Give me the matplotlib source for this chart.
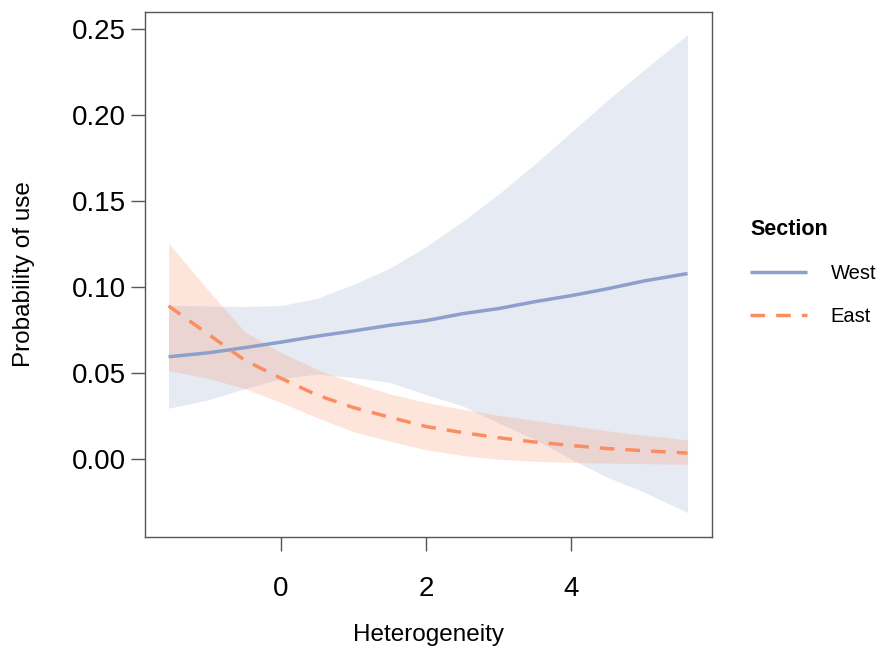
import matplotlib
matplotlib.use("Agg")
import matplotlib.pyplot as plt
import numpy as np

plt.rcParams['font.family'] = ['Liberation Sans', 'DejaVu Sans']

# Heterogeneity values
x = [-1.55, -1.0, -0.5, 0.0, 0.5, 1.0, 1.5, 2.0, 2.5, 3.0, 3.5, 4.0, 4.5, 5.0, 5.6]

# West section: predicted probability and CI
west_mean = [0.0595, 0.0618, 0.0648, 0.0680, 0.0715, 0.0745, 0.0778, 0.0805,
             0.0845, 0.0875, 0.0915, 0.0950, 0.0990, 0.1035, 0.1078]
west_upper = [0.0894, 0.0890, 0.0887, 0.0892, 0.0935, 0.1015, 0.1110, 0.1235,
              0.1380, 0.1540, 0.1715, 0.1900, 0.2085, 0.2260, 0.2465]
west_lower = [0.0296, 0.0346, 0.0409, 0.0468, 0.0495, 0.0475, 0.0446, 0.0375,
              0.0310, 0.0210, 0.0115, 0.0000, -0.0105, -0.0190, -0.0309]

# East section
east_mean = [0.0890, 0.0725, 0.0575, 0.0470, 0.0372, 0.0300, 0.0244, 0.0190,
             0.0155, 0.0125, 0.0100, 0.0080, 0.0062, 0.0050, 0.0036]
east_upper = [0.1255, 0.0980, 0.0740, 0.0620, 0.0520, 0.0445, 0.0380, 0.0330,
              0.0290, 0.0255, 0.0225, 0.0195, 0.0165, 0.0140, 0.0112]
east_lower = [0.0515, 0.0470, 0.0410, 0.0330, 0.0240, 0.0160, 0.0105, 0.0055,
              0.0022, 0.0000, -0.0012, -0.0018, -0.0022, -0.0025, -0.0029]

sections = ['West', 'East']
line_colors = ['#8da0cb', '#fc8d62']

W, H = 888, 652
fig = plt.figure(figsize=(W / 100, H / 100), dpi=100)
ax = fig.add_axes([145 / W, (H - 537) / H, (712 - 145) / W, (537 - 12) / H])

ax.fill_between(x, west_lower, west_upper, color=line_colors[0], alpha=0.22, lw=0)
ax.fill_between(x, east_lower, east_upper, color=line_colors[1], alpha=0.22, lw=0)
lw_ = ax.plot(x, west_mean, color=line_colors[0], lw=2.5, solid_capstyle='butt',
              label=sections[0])[0]
le_ = ax.plot(x, east_mean, color=line_colors[1], lw=2.5, dashes=(4.2, 3.2),
              dash_capstyle='butt', label=sections[1])[0]

ax.set_xlim(-1.874, 5.937)
ax.set_ylim(-0.0451, 0.2596)
ax.set_xticks([0, 2, 4])
ax.set_xticklabels(['0', '2', '4'])
ax.set_yticks([0.00, 0.05, 0.10, 0.15, 0.20, 0.25])
ax.set_yticklabels(['0.00', '0.05', '0.10', '0.15', '0.20', '0.25'])

for s in ax.spines.values():
    s.set_color('#555555')
    s.set_linewidth(1.0)
ax.tick_params(axis='both', colors='#555555', length=10, width=1.0,
               labelcolor='black', labelsize=20)
ax.tick_params(axis='x', pad=18)
ax.tick_params(axis='y', pad=4)

ax.set_xlabel('Heterogeneity', fontsize=17.5, labelpad=16)
ax.set_ylabel('Probability of use', fontsize=17.5, labelpad=26)

leg = fig.legend(handles=[lw_, le_], labels=sections, title='Section',
                 loc='upper left', bbox_to_anchor=(732 / W, 1 - 201 / H),
                 frameon=False, fontsize=14.5, handlelength=2.8,
                 handletextpad=1.2, labelspacing=1.2, alignment='left',
                 title_fontproperties={'weight': 'bold', 'size': 15.5})

fig.savefig('out.png', dpi=100)
